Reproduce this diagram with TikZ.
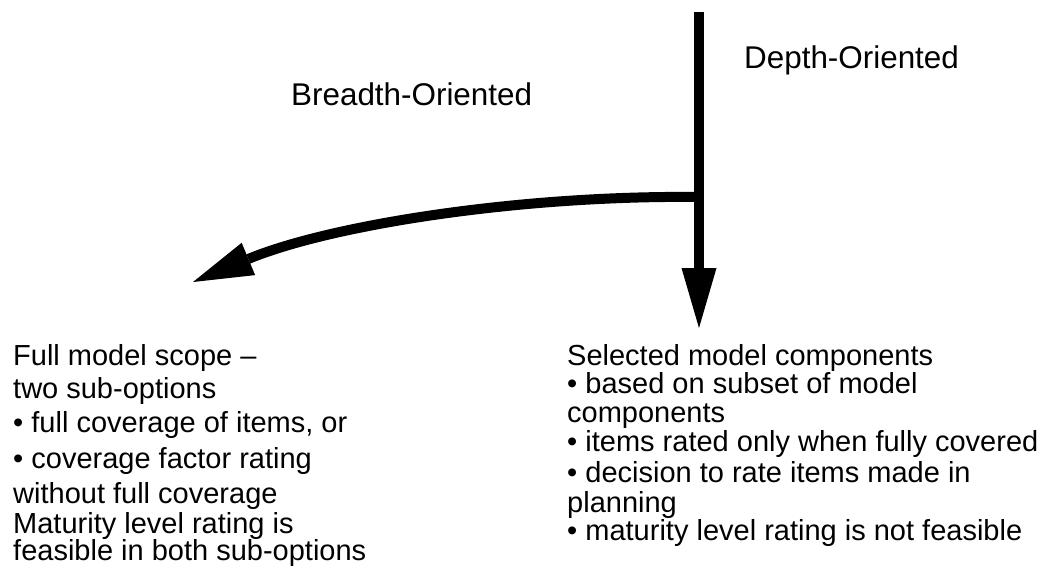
\documentclass[tikz,border=0pt]{standalone}
\usepackage{fontspec}
\setmainfont{Liberation Sans}
\usetikzlibrary{arrows.meta}
\begin{document}
\begin{tikzpicture}[x=1pt,y=-1pt,
  body/.style={font=\fontsize{29}{29}\selectfont, inner sep=0pt, anchor=base west},
  dirtext/.style={font=\fontsize{31.4}{31.4}\selectfont, inner sep=0pt, anchor=base west},
  heavyarrow/.style={line width=10pt, -{Triangle[length=60pt,width=35pt,line width=0pt]}}]
\useasboundingbox (0,0) rectangle (1047,567);

% direction labels
\node[dirtext] (depth) at (744,69) {Depth-Oriented};
\node[dirtext] (breadth) at (291,106) {Breadth-Oriented};

% arrows
\coordinate (top) at (699,12);
\coordinate (junc) at (699,197);
\coordinate (tipD) at (699,328);
\coordinate (tipB) at (193,282);
\draw[heavyarrow] (top) -- (tipD);
\draw[heavyarrow] (junc) .. controls (520,195) and (330,225) .. (tipB);

% breadth-oriented option
\node[body] (l1) at (13,365) {Full model scope –};
\node[body] (l2) at (13,398) {two sub-options};
\node[body] (l3) at (13,432) {• full coverage of items, or};
\node[body] (l4) at (13,468) {• coverage factor rating};
\node[body] (l5) at (13,503) {without full coverage};
\node[body] (l6) at (13,533) {Maturity level rating is};
\node[body] (l7) at (13,560) {feasible in both sub-options};

% depth-oriented option
\node[body] (r1) at (567,365) {Selected model components};
\node[body] (r2) at (567,393) {• based on subset of model};
\node[body] (r3) at (567,422) {components};
\node[body] (r4) at (567,451) {• items rated only when fully covered};
\node[body] (r5) at (567,482) {• decision to rate items made in};
\node[body] (r6) at (567,512) {planning};
\node[body] (r7) at (567,540) {• maturity level rating is not feasible};
\end{tikzpicture}
\end{document}
